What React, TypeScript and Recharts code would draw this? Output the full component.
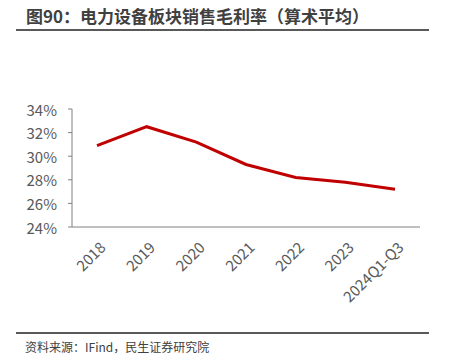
import React from "react";
import { LineChart, Line, XAxis, YAxis } from "recharts";

const categories = ["2018", "2019", "2020", "2021", "2022", "2023", "2024Q1-Q3"];
const grossMargin = [0.309, 0.325, 0.312, 0.293, 0.282, 0.278, 0.272];
const yTicks = [0.24, 0.26, 0.28, 0.3, 0.32, 0.34];

const data = categories.map((c, i) => ({ name: c, value: grossMargin[i] }));

const FONT = "'Noto Sans CJK SC', 'Noto Sans', sans-serif";

const XTick = (props: any) => {
  const { x, y, payload } = props;
  return (
    <g transform={`translate(${x + 5},${y + 9})`}>
      <text
        transform="rotate(-45)"
        textAnchor="end"
        dominantBaseline="central"
        fill="#595959"
        fontSize={15}
        fontFamily={FONT}
      >
        {payload.value}
      </text>
    </g>
  );
};

const YTick = (props: any) => {
  const { x, y, payload } = props;
  return (
    <text
      x={x - 9}
      y={y}
      textAnchor="end"
      dominantBaseline="central"
      fill="#595959"
      fontSize={15}
      fontFamily={FONT}
    >
      {`${Math.round(payload.value * 100)}%`}
    </text>
  );
};

export default function App() {
  return (
    <div style={{ position: "absolute", left: 0, top: 0, width: 450, height: 363, background: "#fff" }}>
      <div
        style={{
          position: "absolute",
          left: 26,
          top: 5,
          fontFamily: FONT,
          fontWeight: 700,
          fontSize: 17,
          color: "#404040",
          whiteSpace: "nowrap",
          lineHeight: "22px",
        }}
      >
        图90：电力设备板块销售毛利率（算术平均）
      </div>
      <div style={{ position: "absolute", left: 16, top: 29, width: 413, height: 2, background: "#595959" }} />
      <div style={{ position: "absolute", left: 0, top: 0 }}>
        <LineChart width={450} height={363} data={data} margin={{ top: 109, right: 30, left: 0, bottom: 36 }}>
          <YAxis
            width={72}
            domain={[0.24, 0.34]}
            ticks={yTicks}
            axisLine={{ stroke: "#808080", strokeWidth: 1 }}
            tickLine={{ stroke: "#808080" }}
            tickSize={4}
            tick={<YTick />}
          />
          <XAxis
            dataKey="name"
            height={100}
            interval={0}
            padding={{ left: 25, right: 25 }}
            axisLine={{ stroke: "#808080", strokeWidth: 1 }}
            tickLine={false}
            tick={<XTick />}
          />
          <Line
            type="linear"
            dataKey="value"
            stroke="#C00000"
            strokeWidth={3}
            dot={false}
            isAnimationActive={false}
          />
        </LineChart>
      </div>
      <div style={{ position: "absolute", left: 16, top: 332, width: 413, height: 2, background: "#595959" }} />
      <div
        style={{
          position: "absolute",
          left: 25,
          top: 338,
          fontFamily: FONT,
          fontSize: 12,
          color: "#404040",
          whiteSpace: "nowrap",
          lineHeight: "18px",
        }}
      >
        资料来源：IFind，民生证券研究院
      </div>
    </div>
  );
}
